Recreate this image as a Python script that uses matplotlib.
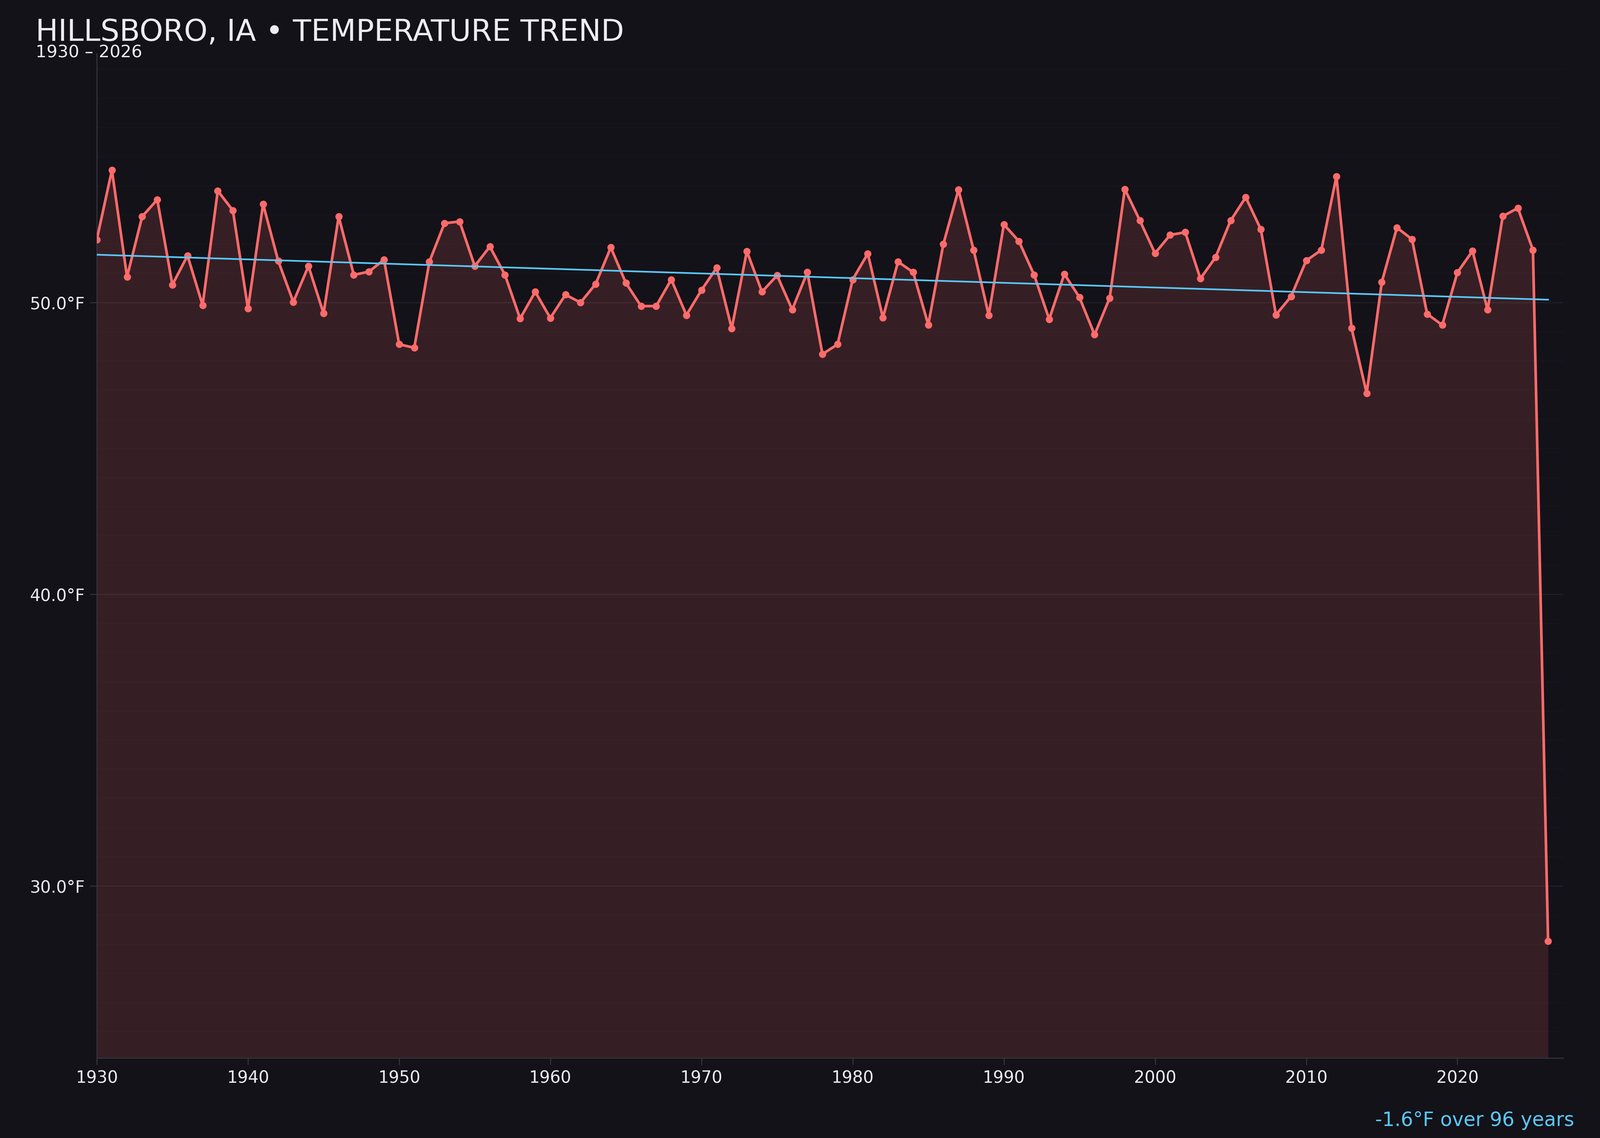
import matplotlib
matplotlib.use("Agg")
import matplotlib.pyplot as plt
from matplotlib.ticker import MultipleLocator, FuncFormatter
import numpy as np

# ============================================================
# Data: annual mean temperature (°F)
# ============================================================
years = np.arange(1930, 2027)
temps = [
    52.16, 54.54, 50.88, 52.95, 53.53, 50.61, 51.61, 49.91, 53.83, 53.16,  # 1930s
    49.79, 53.38, 51.43, 50.02, 51.25, 49.63, 52.95, 50.95, 51.06, 51.47,  # 1940s
    48.57, 48.45, 51.40, 52.72, 52.78, 51.25, 51.92, 50.95, 49.45, 50.37,  # 1950s
    49.47, 50.27, 50.00, 50.64, 51.89, 50.67, 49.88, 49.88, 50.79, 49.57,  # 1960s
    50.43, 51.19, 49.11, 51.76, 50.37, 50.93, 49.76, 51.04, 48.23, 48.57,  # 1970s
    50.79, 51.68, 49.48, 51.40, 51.04, 49.24, 52.01, 53.87, 51.80, 49.57,  # 1980s
    52.68, 52.10, 50.95, 49.43, 50.98, 50.18, 48.90, 50.16, 53.89, 52.81,  # 1990s
    51.69, 52.32, 52.41, 50.82, 51.55, 52.81, 53.61, 52.51, 49.58, 50.21,  # 2000s
    51.44, 51.80, 54.33, 49.12, 46.89, 50.70, 52.57, 52.17, 49.61, 49.23,  # 2010s
    51.03, 51.77, 49.75, 52.96, 53.24, 51.80, 28.10,                       # 2020s
]
title = "HILLSBORO, IA \u2022 TEMPERATURE TREND"
subtitle = "1930 \u2013 2026"
trend_note = "-1.6\u00b0F over 96 years"

# ============================================================
# Colours
# ============================================================
BG = "#131218"
RED = "#ff6b6b"
BLUE = "#5ac8fa"
TXT = "#ececf2"
SPINE = "#33323c"

temps = np.array(temps)
coef = np.polyfit(years, temps, 1)
trend = np.polyval(coef, years)

fig = plt.figure(figsize=(16, 11.376), dpi=250, facecolor=BG)
ax = fig.add_axes([0.0605, 0.0703, 0.9165, 0.8827])
ax.set_facecolor(BG)

ymin, ymax = temps.min() - 4, temps.max() + 4
ax.fill_between(years, temps, ymin, color=RED, alpha=0.15, linewidth=0)
ax.plot(years, temps, color=RED, linewidth=1.9, marker="o", markersize=4.2, zorder=3)
ax.plot(years, trend, color=BLUE, linewidth=1.2, zorder=4)

ax.set_xlim(1930, 2027)
ax.set_ylim(ymin, ymax)

# ticks / grid
ax.xaxis.set_major_locator(MultipleLocator(10))
ax.yaxis.set_major_locator(MultipleLocator(10))
ax.yaxis.set_minor_locator(MultipleLocator(1))
ax.yaxis.set_major_formatter(FuncFormatter(lambda v, p: f"{v:.1f}\u00b0F"))
ax.tick_params(axis="both", colors=SPINE, labelcolor=TXT, labelsize=12, length=5, width=0.8)
ax.tick_params(axis="y", which="minor", length=0)
ax.grid(True, axis="y", which="major", color="#211f27", linewidth=0.8)
ax.grid(True, axis="y", which="minor", color="#17161c", linewidth=0.6)
ax.set_axisbelow(True)

for side in ("top", "right"):
    ax.spines[side].set_visible(False)
for side in ("left", "bottom"):
    ax.spines[side].set_color(SPINE)
    ax.spines[side].set_linewidth(0.8)

# titles
fig.text(0.0223, 0.964, title, color=TXT, fontsize=21.6, ha="left", va="baseline")
fig.text(0.0223, 0.9495, subtitle, color=TXT, fontsize=12.3, ha="left", va="baseline")
fig.text(0.984, 0.0105, trend_note, color=BLUE, fontsize=14, ha="right", va="baseline")

fig.savefig("out.png", dpi=250, facecolor=BG)
